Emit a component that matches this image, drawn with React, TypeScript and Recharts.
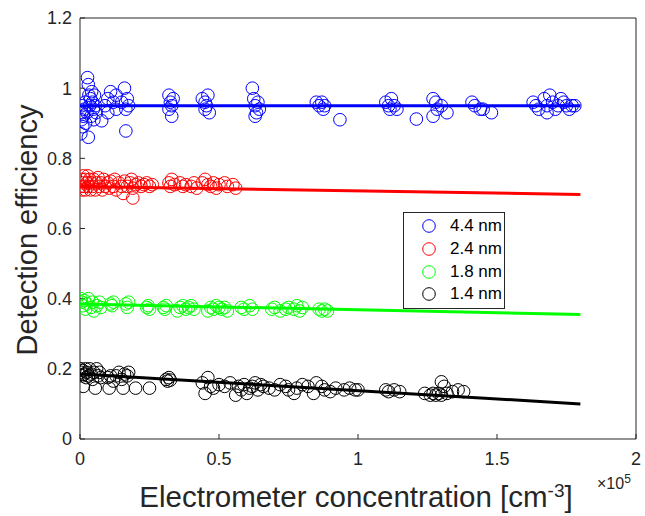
import { Legend, Scatter, ScatterChart, XAxis, YAxis } from "recharts";

const FONT = '"Liberation Sans", Arial, Helvetica, sans-serif';
const AXIS = "#262626";

const xTicks = [0, 0.5, 1, 1.5, 2];
const yTicks = [0, 0.2, 0.4, 0.6, 0.8, 1, 1.2];

const seriesNames = ["4.4 nm", "2.4 nm", "1.8 nm", "1.4 nm"];
const seriesColors = ["#0000ff", "#ff0000", "#00ff00", "#000000"];

// measurements: [concentration (x1e5 cm^-3), detection efficiency]
const nm44: [number, number][] = [
  [0.003, 0.87], [0.005, 0.91], [0.007, 0.93], [0.008, 0.95], [0.01, 0.89], [0.012, 0.92],
  [0.015, 0.94], [0.018, 0.96], [0.02, 0.9], [0.025, 0.93], [0.027, 1.03], [0.03, 1.01],
  [0.03, 0.86], [0.032, 0.98], [0.035, 0.95], [0.038, 0.97], [0.04, 0.92], [0.042, 0.99],
  [0.045, 0.96], [0.048, 0.94], [0.05, 0.91], [0.052, 0.98], [0.055, 0.95], [0.058, 0.93],
  [0.078, 0.907], [0.09, 0.95], [0.1, 0.97], [0.1, 0.93], [0.11, 0.99], [0.12, 0.96],
  [0.13, 0.94], [0.13, 0.98], [0.15, 0.96], [0.16, 1.0], [0.165, 0.94], [0.17, 0.97],
  [0.175, 0.95], [0.165, 0.878], [0.32, 0.98], [0.325, 0.96], [0.33, 0.95], [0.32, 0.94],
  [0.335, 0.97], [0.33, 0.92], [0.44, 0.97], [0.45, 0.96], [0.455, 0.95], [0.46, 0.98],
  [0.45, 0.94], [0.465, 0.93], [0.62, 1.0], [0.625, 0.97], [0.63, 0.95], [0.64, 0.96],
  [0.635, 0.93], [0.63, 0.92], [0.645, 0.94], [0.85, 0.96], [0.86, 0.95], [0.87, 0.96],
  [0.875, 0.94], [0.88, 0.95], [0.935, 0.91], [1.1, 0.96], [1.11, 0.95], [1.12, 0.97],
  [1.115, 0.94], [1.13, 0.95], [1.14, 0.94], [1.21, 0.912], [1.27, 0.97], [1.28, 0.96],
  [1.285, 0.94], [1.27, 0.92], [1.3, 0.95], [1.32, 0.93], [1.41, 0.96], [1.42, 0.95],
  [1.44, 0.94], [1.45, 0.94], [1.48, 0.93], [1.63, 0.96], [1.64, 0.95], [1.65, 0.94],
  [1.67, 0.97], [1.68, 0.95], [1.69, 0.98], [1.7, 0.96], [1.71, 0.94], [1.72, 0.95],
  [1.73, 0.97], [1.74, 0.96], [1.75, 0.95], [1.76, 0.94], [1.77, 0.95], [1.78, 0.95],
  [1.68, 0.93],
];

const nm24: [number, number][] = [
  [0.003, 0.72], [0.005, 0.74], [0.008, 0.71], [0.01, 0.73], [0.012, 0.75], [0.015, 0.72],
  [0.018, 0.74], [0.02, 0.71], [0.025, 0.73], [0.028, 0.75], [0.03, 0.72], [0.035, 0.74],
  [0.038, 0.71], [0.04, 0.73], [0.045, 0.72], [0.05, 0.74], [0.055, 0.71], [0.06, 0.73],
  [0.065, 0.745], [0.07, 0.72], [0.075, 0.73], [0.08, 0.71], [0.085, 0.74], [0.09, 0.72],
  [0.1, 0.73], [0.105, 0.715], [0.11, 0.735], [0.12, 0.72], [0.125, 0.74], [0.13, 0.71],
  [0.14, 0.73], [0.15, 0.72], [0.155, 0.7], [0.16, 0.735], [0.17, 0.72], [0.18, 0.73],
  [0.185, 0.74], [0.19, 0.687], [0.19, 0.715], [0.2, 0.725], [0.21, 0.73], [0.22, 0.72],
  [0.23, 0.725], [0.24, 0.73], [0.25, 0.72], [0.26, 0.725], [0.32, 0.73], [0.325, 0.72],
  [0.33, 0.74], [0.34, 0.725], [0.36, 0.73], [0.37, 0.72], [0.38, 0.725], [0.4, 0.72],
  [0.41, 0.73], [0.42, 0.715], [0.44, 0.73], [0.45, 0.74], [0.46, 0.725], [0.47, 0.72],
  [0.48, 0.73], [0.49, 0.715], [0.5, 0.725], [0.52, 0.73], [0.53, 0.72], [0.55, 0.725],
  [0.56, 0.715],
];

const nm18: [number, number][] = [
  [0.003, 0.4], [0.006, 0.39], [0.01, 0.38], [0.015, 0.395], [0.02, 0.37], [0.025, 0.385],
  [0.03, 0.4], [0.04, 0.375], [0.045, 0.39], [0.05, 0.365], [0.06, 0.38], [0.07, 0.39],
  [0.075, 0.375], [0.11, 0.385], [0.115, 0.38], [0.12, 0.39], [0.165, 0.385], [0.17, 0.375],
  [0.175, 0.39], [0.24, 0.375], [0.245, 0.38], [0.25, 0.37], [0.3, 0.375], [0.305, 0.37],
  [0.31, 0.38], [0.35, 0.365], [0.36, 0.375], [0.37, 0.38], [0.38, 0.37], [0.39, 0.375],
  [0.4, 0.38], [0.41, 0.37], [0.46, 0.365], [0.47, 0.375], [0.48, 0.37], [0.49, 0.38],
  [0.5, 0.375], [0.51, 0.37], [0.52, 0.375], [0.53, 0.365], [0.58, 0.375], [0.59, 0.37],
  [0.61, 0.38], [0.62, 0.37], [0.69, 0.37], [0.7, 0.375], [0.72, 0.365], [0.74, 0.37],
  [0.75, 0.375], [0.77, 0.37], [0.78, 0.38], [0.79, 0.365], [0.8, 0.375], [0.86, 0.37],
  [0.87, 0.365], [0.88, 0.37], [0.89, 0.365],
];

const nm14: [number, number][] = [
  [0.003, 0.2], [0.005, 0.19], [0.008, 0.18], [0.01, 0.195], [0.012, 0.15], [0.015, 0.185],
  [0.02, 0.2], [0.022, 0.175], [0.025, 0.19], [0.03, 0.18], [0.035, 0.2], [0.04, 0.185],
  [0.045, 0.17], [0.05, 0.19], [0.055, 0.145], [0.06, 0.2], [0.065, 0.18], [0.07, 0.19],
  [0.075, 0.175], [0.1, 0.175], [0.105, 0.145], [0.11, 0.18], [0.12, 0.165], [0.13, 0.18],
  [0.14, 0.19], [0.15, 0.17], [0.155, 0.145], [0.16, 0.185], [0.17, 0.18], [0.175, 0.19],
  [0.2, 0.145], [0.25, 0.145], [0.31, 0.17], [0.315, 0.165], [0.32, 0.175], [0.325, 0.168],
  [0.44, 0.16], [0.45, 0.13], [0.46, 0.175], [0.47, 0.15], [0.48, 0.145], [0.5, 0.155],
  [0.52, 0.15], [0.54, 0.16], [0.56, 0.125], [0.57, 0.15], [0.58, 0.14], [0.59, 0.155],
  [0.6, 0.13], [0.61, 0.145], [0.62, 0.15], [0.63, 0.16], [0.64, 0.14], [0.65, 0.155],
  [0.66, 0.15], [0.68, 0.145], [0.7, 0.14], [0.72, 0.155], [0.74, 0.15], [0.75, 0.14],
  [0.77, 0.13], [0.78, 0.145], [0.8, 0.155], [0.82, 0.15], [0.84, 0.13], [0.85, 0.16],
  [0.87, 0.15], [0.88, 0.14], [0.9, 0.135], [0.92, 0.145], [0.95, 0.14], [0.97, 0.145],
  [0.99, 0.14], [1.0, 0.14], [1.1, 0.14], [1.11, 0.135], [1.13, 0.14], [1.15, 0.135],
  [1.24, 0.13], [1.26, 0.125], [1.27, 0.13], [1.28, 0.125], [1.29, 0.13], [1.3, 0.163],
  [1.3, 0.125], [1.31, 0.15], [1.32, 0.13], [1.34, 0.135], [1.36, 0.14], [1.38, 0.135],
];

// linear fits, evaluated at the ends of fitX
const fitX = [0, 1.8];
const fit44 = [0.95, 0.95];
const fit24 = [0.72, 0.697];
const fit18 = [0.385, 0.355];
const fit14 = [0.185, 0.1];

const points = [nm44, nm24, nm18, nm14].map((s) => s.map(([x, y]) => ({ x, y })));
const fits = [fit44, fit24, fit18, fit14].map((f) => fitX.map((x, i) => ({ x, y: f[i] })));

function MatlabLegend() {
  return (
    <div
      style={{
        border: `1px solid ${AXIS}`,
        background: "#fff",
        padding: "2px 0",
        fontFamily: FONT,
        fontSize: 17,
        color: "#000",
      }}
    >
      {seriesNames.map((name, i) => (
        <div key={name} style={{ display: "flex", alignItems: "center", height: 22.7 }}>
          <svg width={46} height={16}>
            <circle cx={25} cy={8} r={6.3} fill="none" stroke={seriesColors[i]} />
          </svg>
          <span>{name}</span>
        </div>
      ))}
    </div>
  );
}

export default function App() {
  return (
    <div style={{ position: "absolute", left: 0, top: 0, width: 645, height: 516, background: "#fff" }}>
      <ScatterChart
        width={645}
        height={516}
        margin={{ top: 8, right: 4, bottom: 37, left: 20 }}
        style={{ fontFamily: FONT }}
      >
        <XAxis
          type="number"
          dataKey="x"
          domain={[0, 2]}
          ticks={xTicks}
          height={40}
          tickSize={-5}
          tickMargin={18}
          tick={{ fill: AXIS, fontSize: 18 }}
          stroke={AXIS}
          allowDataOverflow
        />
        <XAxis
          xAxisId="top"
          orientation="top"
          type="number"
          domain={[0, 2]}
          ticks={xTicks}
          height={10}
          tickSize={-5}
          tick={false}
          stroke={AXIS}
        />
        <YAxis
          type="number"
          dataKey="y"
          domain={[0, 1.2]}
          ticks={yTicks}
          width={60}
          tickSize={-5}
          tickMargin={13}
          tick={{ fill: AXIS, fontSize: 18 }}
          stroke={AXIS}
          allowDataOverflow
        />
        <YAxis
          yAxisId="right"
          orientation="right"
          type="number"
          domain={[0, 1.2]}
          ticks={yTicks}
          width={5}
          tickSize={-5}
          tick={false}
          stroke={AXIS}
        />
        {points.map((data, i) => (
          <Scatter
            key={seriesNames[i]}
            name={seriesNames[i]}
            data={data}
            isAnimationActive={false}
            shape={(p: any) => (
              <circle cx={p.cx} cy={p.cy} r={6.3} fill="none" stroke={seriesColors[i]} strokeWidth={1} />
            )}
          />
        ))}
        {fits.map((data, i) => (
          <Scatter
            key={"fit" + i}
            data={data}
            fill={seriesColors[i]}
            line={{ stroke: seriesColors[i], strokeWidth: 3 }}
            isAnimationActive={false}
            shape={() => <g />}
            legendType="none"
          />
        ))}
        <Legend
          layout="horizontal"
          verticalAlign="middle"
          align="center"
          content={() => <MatlabLegend />}
          wrapperStyle={{ position: "absolute", left: 403, top: 212, width: 102 }}
        />
      </ScatterChart>
      <div
        style={{
          position: "absolute",
          left: 27,
          top: 230,
          transform: "translate(-50%, -50%) rotate(-90deg)",
          whiteSpace: "nowrap",
          fontFamily: FONT,
          fontSize: 29,
          color: AXIS,
        }}
      >
        Detection efficiency
      </div>
      <div
        style={{
          position: "absolute",
          left: 356,
          top: 497,
          transform: "translate(-50%, -50%)",
          whiteSpace: "nowrap",
          fontFamily: FONT,
          fontSize: 29.5,
          color: AXIS,
        }}
      >
        Electrometer concentration [cm<sup style={{ fontSize: 19 }}>-3</sup>]
      </div>
      <div
        style={{
          position: "absolute",
          left: 597,
          top: 472,
          whiteSpace: "nowrap",
          fontFamily: FONT,
          fontSize: 16,
          color: AXIS,
        }}
      >
        ×10<sup style={{ fontSize: 12 }}>5</sup>
      </div>
    </div>
  );
}
